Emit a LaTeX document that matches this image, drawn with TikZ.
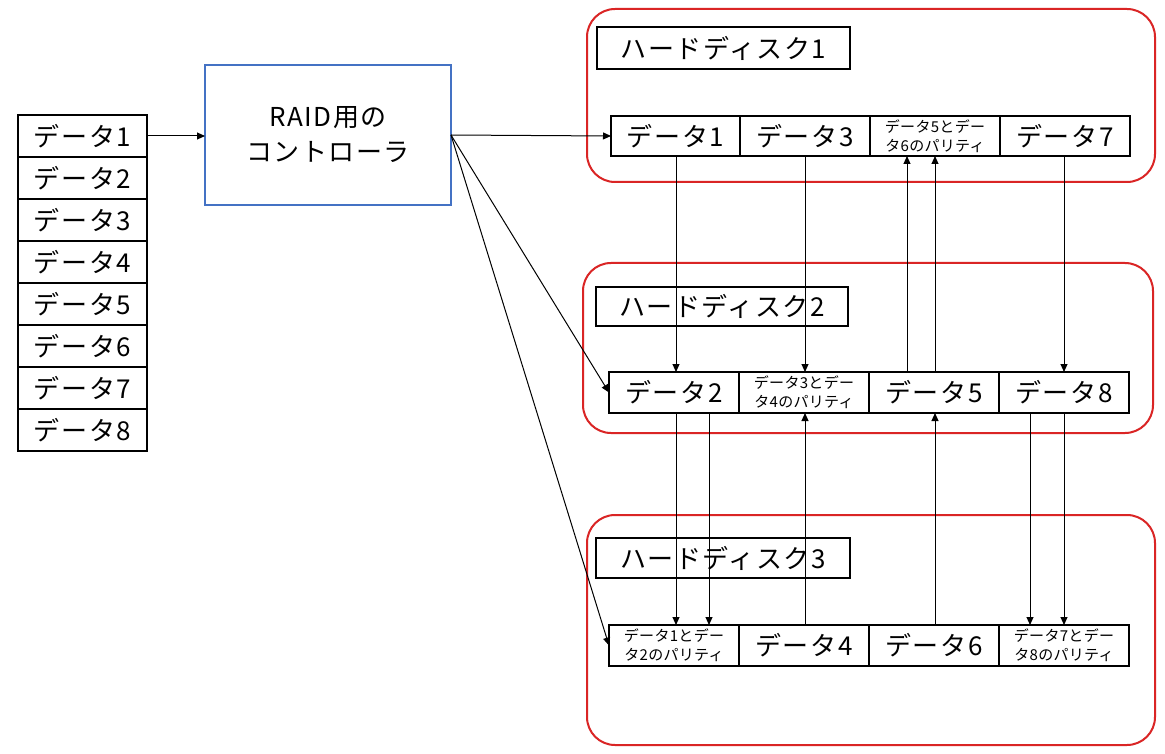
\documentclass[tikz,border=0pt]{standalone}
\usepackage{fontspec}
\setmainfont{Noto Sans CJK JP}[LetterSpace=6]
\newfontfamily\jpsmall{Noto Sans CJK JP}[LetterSpace=2]
\usetikzlibrary{arrows.meta}
\definecolor{diskred}{RGB}{218,37,37}
\definecolor{ctrlblue}{RGB}{68,114,196}
\begin{document}
\begin{tikzpicture}[x=1pt,y=-1pt,
  every node/.style={inner sep=0pt,outer sep=0pt},
  bigtxt/.style={font=\fontsize{26}{30}\selectfont},
  smalltxt/.style={font=\jpsmall\fontsize{15}{19}\selectfont,align=center},
  stackcell/.style={draw,line width=2pt,minimum width=129pt,minimum height=42pt,bigtxt},
  cellbox/.style={draw,line width=2pt,minimum width=130pt,minimum height=41pt},
  labelbox/.style={draw,line width=2pt,minimum width=253pt,bigtxt},
  diskbox/.style={draw=diskred,line width=2pt,rounded corners=28pt,minimum width=568pt},
  conn/.style={line width=1pt,-{Triangle[length=8pt,width=7pt]}}
]
\useasboundingbox (0,0) rectangle (1165,754);
\fill[white] (0,0) rectangle (1165,754);

% disks (background)
\node[diskbox,minimum height=173pt] (disk1) at (871,95.5) {};
\node[diskbox,minimum height=170pt,minimum width=570pt] (disk2) at (868,348) {};
\node[diskbox,minimum height=230pt] (disk3) at (871,630) {};

% left stack
\node[stackcell] (s1) at (82.5,136) {データ1};
\node[stackcell] (s2) at (82.5,178) {データ2};
\node[stackcell] (s3) at (82.5,220) {データ3};
\node[stackcell] (s4) at (82.5,262) {データ4};
\node[stackcell] (s5) at (82.5,304) {データ5};
\node[stackcell] (s6) at (82.5,346) {データ6};
\node[stackcell] (s7) at (82.5,388) {データ7};
\node[stackcell] (s8) at (82.5,430) {データ8};

% controller
\node[draw=ctrlblue,line width=2pt,minimum width=246pt,minimum height=140pt,
      align=center,font=\fontsize{26}{35}\selectfont] (ctrl) at (328,135) {RAID用の\\コントローラ};

% labels
\node[labelbox,minimum height=42pt] (l1) at (723.5,48) {ハードディスク1};
\node[labelbox,minimum height=39pt,minimum width=252pt] (l2) at (722,306.5) {ハードディスク2};
\node[labelbox,minimum height=40pt,minimum width=254pt] (l3) at (723,558) {ハードディスク3};

% disk 1 row
\node[cellbox,bigtxt,minimum height=40pt,minimum width=129pt] (d1a) at (675.5,136) {データ1};
\node[cellbox,bigtxt,minimum height=40pt] (d1b) at (805,136) {データ3};
\node[cellbox,smalltxt,minimum height=40pt] (d1c) at (935,136) {データ5とデー\\タ6のパリティ};
\node[cellbox,bigtxt,minimum height=40pt] (d1d) at (1065,136) {データ7};

% disk 2 row
\node[cellbox,bigtxt] (d2a) at (674,392.5) {データ2};
\node[cellbox,smalltxt] (d2b) at (804,392.5) {データ3とデー\\タ4のパリティ};
\node[cellbox,bigtxt] (d2c) at (934,392.5) {データ5};
\node[cellbox,bigtxt] (d2d) at (1064,392.5) {データ8};

% disk 3 row
\node[cellbox,smalltxt] (d3a) at (674,645.5) {データ1とデー\\タ2のパリティ};
\node[cellbox,bigtxt] (d3b) at (804,645.5) {データ4};
\node[cellbox,bigtxt] (d3c) at (934,645.5) {データ6};
\node[cellbox,smalltxt] (d3d) at (1064,645.5) {データ7とデー\\タ8のパリティ};

% controller connections
\draw[conn] (s1.east) -- (s1.east -| ctrl.west);
\draw[conn] (ctrl.east) -- (d1a.west);
\draw[conn] (ctrl.east) -- (d2a.west);
\draw[conn] (ctrl.east) -- (d3a.west);

% vertical connections
\draw[conn] ([xshift=0.5pt]d1a.south) -- ([xshift=0.5pt]d1a.south |- d2a.north);
\draw[conn] (d1b.south) -- (d1b.south |- d2b.north);
\draw[conn] ([xshift=-27pt]d2c.north) -- ([xshift=-27pt]d2c.north |- d1c.south);
\draw[conn] ([xshift=1pt]d2c.north) -- ([xshift=1pt]d2c.north |- d1c.south);
\draw[conn] ([xshift=1pt]d3c.north) -- ([xshift=1pt]d3c.north |- d2c.south);
\draw[conn] ([xshift=1pt]d3b.north) -- ([xshift=1pt]d3b.north |- d2b.south);
\draw[conn] ([xshift=-1pt]d1d.south) -- ([xshift=-1pt]d1d.south |- d2d.north);
\draw[conn] ([xshift=2pt]d2a.south) -- ([xshift=2pt]d2a.south |- d3a.north);
\draw[conn] ([xshift=35pt]d2a.south) -- ([xshift=35pt]d2a.south |- d3a.north);
\draw[conn] ([xshift=-34pt]d2d.south) -- ([xshift=-34pt]d2d.south |- d3d.north);
\draw[conn] (d2d.south) -- (d2d.south |- d3d.north);
\end{tikzpicture}
\end{document}
